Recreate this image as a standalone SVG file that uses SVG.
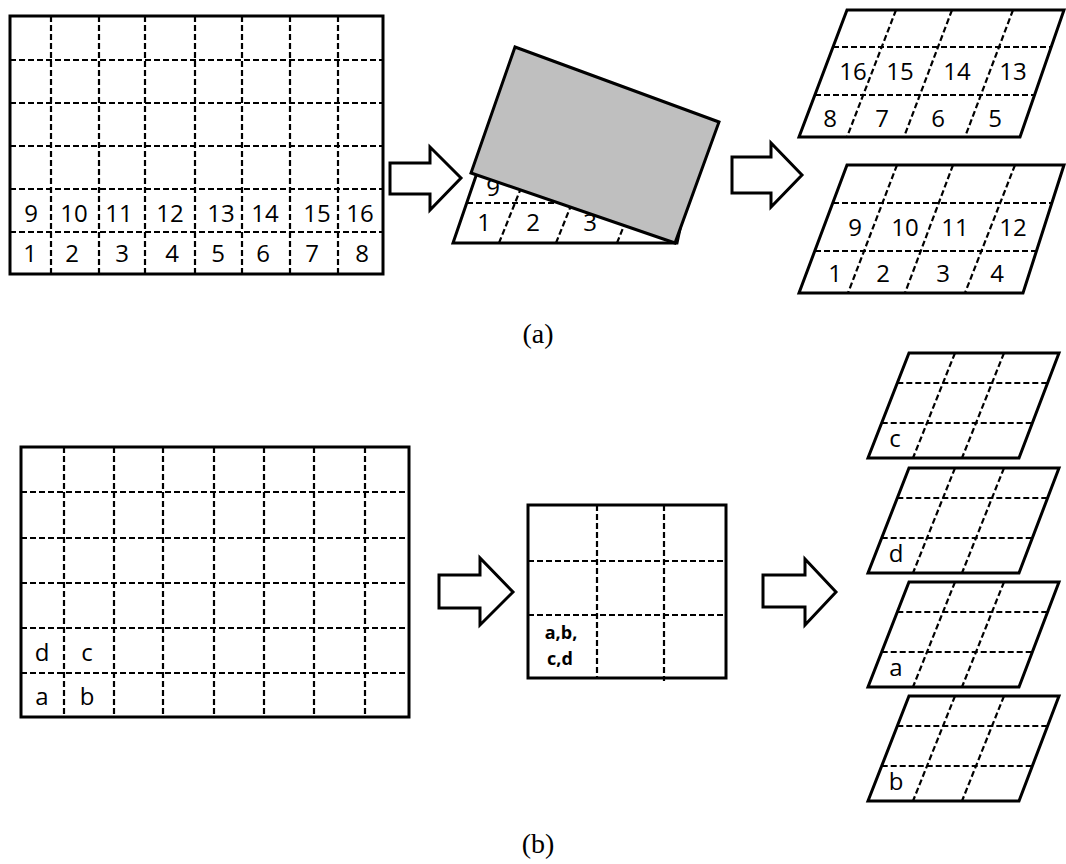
<svg xmlns="http://www.w3.org/2000/svg" xmlns:xlink="http://www.w3.org/1999/xlink" width="1066" height="864" viewBox="0 0 1066 864">
<style>
.frame{fill:#fff;stroke:#000;stroke-width:3;stroke-linejoin:miter}
.dash{fill:none;stroke:#000;stroke-width:2.2;stroke-dasharray:6 3}
.arrow{fill:#fff;stroke:#000;stroke-width:3;stroke-linejoin:miter}
.num{font-family:"Open Sans","Liberation Sans",sans-serif;font-size:24px;fill:#000;text-anchor:middle}
.let{font-family:"Open Sans","Liberation Sans",sans-serif;font-size:24px;fill:#000;text-anchor:middle}
.bold{font-family:"Open Sans","Liberation Sans",sans-serif;font-size:18px;font-weight:bold;fill:#000;text-anchor:middle}
.cap{font-family:"Liberation Serif","DejaVu Serif",serif;font-size:28px;fill:#000;text-anchor:middle}
</style>
<defs>
<g id="pg">
<polygon class="frame" points="41,0 191,0 151,105 0,105"/>
<line class="dash" x1="29.3" y1="30" x2="179.6" y2="30"/>
<line class="dash" x1="13.7" y1="70" x2="164.3" y2="70"/>
<line class="dash" x1="87" y1="0" x2="45" y2="105"/>
<line class="dash" x1="136" y1="0" x2="94" y2="105"/>
</g>
</defs>
<rect width="1066" height="864" fill="#fff"/>

<g id="grid-a">
<rect class="frame" x="10" y="16" width="373" height="258"/>
<path class="dash" d="M51,16V274M99,16V274M145,16V274M195,16V274M242,16V274M290,16V274M338,16V274"/>
<path class="dash" d="M10,60H383M10,103H383M10,146H383M10,189H383M10,232H383"/>
<g class="num">
<text x="31" y="222">9</text><text x="74" y="222">10</text><text x="119" y="222">11</text><text x="170" y="222">12</text>
<text x="221" y="222">13</text><text x="265" y="222">14</text><text x="317" y="222">15</text><text x="360" y="222">16</text>
<text x="30" y="262">1</text><text x="72" y="262">2</text><text x="122" y="262">3</text><text x="172" y="262">4</text>
<text x="218" y="262">5</text><text x="263" y="262">6</text><text x="312" y="262">7</text><text x="362" y="262">8</text>
</g>
</g>

<g id="fold-a">
<polygon class="frame" points="453,243 677,243 683,215 478,170"/>
<line class="dash" x1="467" y1="203" x2="565" y2="203"/>
<line class="dash" x1="499" y1="243" x2="523" y2="183"/>
<line class="dash" x1="556" y1="243" x2="580" y2="183"/>
<line class="dash" x1="617" y1="243" x2="641" y2="183"/>
<g class="num">
<text x="493" y="196">9</text>
<text x="484" y="231">1</text><text x="533" y="231">2</text><text x="590" y="231">3</text>
</g>
<polygon class="frame" style="fill:#bfbfbf" points="515,47 719,122 675,243 471,173"/>
</g>

<g id="top-a">
<polygon class="frame" points="847,10 1064,10 1020,137 799,137"/>
<line class="dash" x1="833" y1="47" x2="1052" y2="47"/>
<line class="dash" x1="815" y1="95" x2="1035" y2="95"/>
<line class="dash" x1="896" y1="10" x2="847" y2="137"/>
<line class="dash" x1="952" y1="10" x2="904" y2="137"/>
<line class="dash" x1="1013" y1="10" x2="965" y2="137"/>
<g class="num">
<text x="853" y="80">16</text><text x="900" y="80">15</text><text x="957" y="80">14</text><text x="1013" y="80">13</text>
<text x="830" y="127">8</text><text x="882" y="127">7</text><text x="938" y="127">6</text><text x="995" y="127">5</text>
</g>
</g>

<g id="bottom-a">
<polygon class="frame" points="847,165 1064,165 1023,293 799,293"/>
<line class="dash" x1="833" y1="203" x2="1052" y2="203"/>
<line class="dash" x1="815" y1="251" x2="1037" y2="251"/>
<line class="dash" x1="897" y1="165" x2="848" y2="293"/>
<line class="dash" x1="953" y1="165" x2="905" y2="293"/>
<line class="dash" x1="1015" y1="165" x2="965" y2="293"/>
<g class="num">
<text x="855" y="236">9</text><text x="905" y="236">10</text><text x="955" y="236">11</text><text x="1013" y="236">12</text>
<text x="835" y="282">1</text><text x="883" y="282">2</text><text x="943" y="282">3</text><text x="997" y="282">4</text>
</g>
</g>

<text id="caption-a" class="cap" x="538" y="343">(a)</text>

<g id="grid-b">
<rect class="frame" x="21" y="447" width="388" height="270"/>
<path class="dash" d="M64,447V717M114,447V717M163,447V717M214,447V717M264,447V717M314,447V717M365,447V717"/>
<path class="dash" d="M21,492H409M21,538H409M21,583H409M21,628H409M21,673H409"/>
<g class="let">
<text x="42" y="661">d</text><text x="87" y="661">c</text>
<text x="42" y="705">a</text><text x="87" y="705">b</text>
</g>
</g>

<g id="mid-b">
<rect class="frame" x="528" y="505" width="198" height="173"/>
<path class="dash" d="M597,505V678M664,505V681"/>
<path class="dash" d="M528,561H726M528,615H726"/>
<text class="bold" x="561" y="639">a,b,</text>
<text class="bold" x="560" y="665">c,d</text>
</g>

<g id="layer-c" transform="translate(868,353)"><use xlink:href="#pg"/><text class="let" x="27" y="94">c</text></g>
<g id="layer-d" transform="translate(868,468)"><use xlink:href="#pg"/><text class="let" x="28" y="94">d</text></g>
<g id="layer-a" transform="translate(868,582)"><use xlink:href="#pg"/><text class="let" x="28" y="94">a</text></g>
<g id="layer-b" transform="translate(868,696)"><use xlink:href="#pg"/><text class="let" x="28" y="94">b</text></g>

<text id="caption-b" class="cap" x="538" y="853">(b)</text>

<g id="connectors">
<polygon class="arrow" points="390,163 430,163 430,147 461,178 430,210 430,194 390,194"/>
<polygon class="arrow" points="732,157 771,157 771,143 802,175 771,207 771,193 732,193"/>
<polygon class="arrow" points="439,575 480,575 480,558 513,592 480,625 480,608 439,608"/>
<polygon class="arrow" points="763,575 805,575 805,559 836,592 805,625 805,607 763,607"/>
</g>
</svg>
